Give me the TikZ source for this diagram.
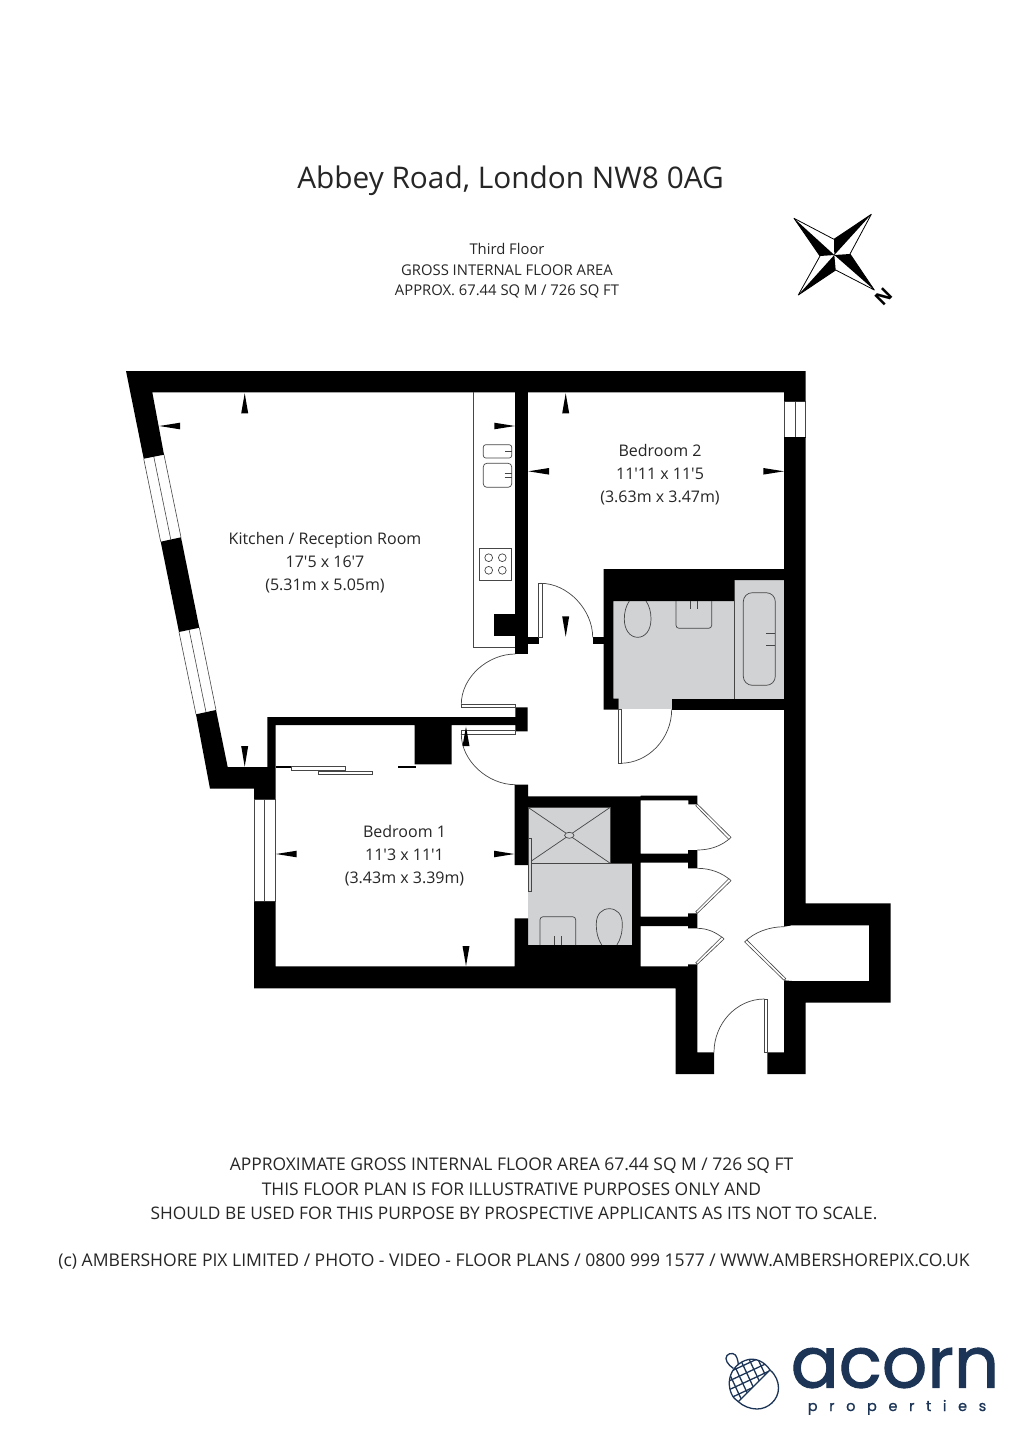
\documentclass[tikz,border=0pt]{standalone}
\usepackage{fontspec}
\usetikzlibrary{calc}
\newfontfamily\labelfont{Open Sans}
\newfontfamily\logofont{Poppins}
\setmainfont{Open Sans}
\definecolor{wetgray}{RGB}{208,210,211}
\definecolor{navy}{RGB}{28,53,87}
\definecolor{fixline}{RGB}{70,70,70}
\tikzset{
  wall/.style={fill=black,draw=none},
  fix/.style={draw=fixline,line width=0.7pt},
  leaf/.style={draw=fixline,line width=0.6pt,fill=white},
  swing/.style={draw=fixline,line width=0.7pt},
  winline/.style={draw=fixline,line width=0.6pt},
  dimmark/.style={fill=black,draw=none},
  txt/.style={inner sep=0pt,align=center,font=\labelfont\fontsize{16}{23}\selectfont,text=black!85},
  foot/.style={inner sep=0pt,font=\labelfont\fontsize{17.45}{20}\selectfont,text=black!85},
  head/.style={inner sep=0pt,font=\labelfont\fontsize{14.8}{20.5}\selectfont,align=center,text=black!85},
}
\begin{document}
\begin{tikzpicture}[x=1pt,y=-1pt]
\useasboundingbox (0,0) rectangle (1020,1441);
\fill[white] (0,0) rectangle (1020,1441);
% wet rooms
\fill[wetgray] (613.3,601) rectangle (734.7,698.7);
\fill[wetgray] (618.7,698) rectangle (671.7,709.3);
\fill[wetgray] (734.7,580) rectangle (784,698.7);
\fill[wetgray] (528,807.3) rectangle (610.3,863.3);
\fill[wetgray] (528,863.3) rectangle (632,945);
% windows
\draw[winline] (143.7,458.7) -- (160.7,541.7) (164,454.7) -- (181,537.3) (153.8,456.7) -- (170.8,539.5);
\draw[winline] (179,632) -- (196,714.3) (199.3,627.7) -- (216,710) (189.1,629.8) -- (206,712.1);
\draw[winline] (784.3,401.3) rectangle (805.5,437) (795,401.3) -- (795,437);
\draw[winline] (254,799) rectangle (275.7,901.7) (264.7,799) -- (264.7,901.7);
% walls
\fill[wall] (126,371) -- (805.7,371) -- (805.7,401.3) -- (784,401.3) -- (784,392.3) -- (152.3,392.3) -- (164,454.7) -- (143.7,458.7) -- cycle;
\fill[wall] (160.7,541.7) -- (181,537.3) -- (199.3,627.7) -- (179,632) -- cycle;
\fill[wall] (196,714.3) -- (216,710) -- (227.7,767) -- (267.3,767) -- (267.3,717) -- (515.3,717) -- (515.3,707.3) -- (527.7,707.3) -- (527.7,731.3) -- (515.3,731.3) -- (515.3,725) -- (451.7,725) -- (451.7,764.3) -- (414.7,764.3) -- (414.7,725) -- (275.7,725) -- (275.7,799) -- (254,799) -- (254,788.7) -- (210,788.7) -- cycle;
\fill[wall] (515.3,392) rectangle (527.7,654);
\fill[wall] (494,614.3) rectangle (515.3,635.7);
\fill[wall] (527.7,637.3) rectangle (539.3,644.3);
\fill[wall] (592.7,637.3) rectangle (603.7,644.3);
\fill[wall] (603.7,569) -- (784,569) -- (784,580) -- (734.7,580) -- (734.7,601) -- (613.3,601) -- (613.3,698.7) -- (618.7,698.7) -- (618.7,709.7) -- (603.7,709.7) -- cycle;
\fill[wall] (671.7,698.7) rectangle (784,709.5);
\fill[wall] (784,437) -- (805.5,437) -- (805.5,903.3) -- (890.7,903.3) -- (890.7,1002.7) -- (805.5,1002.7) -- (805.5,1074) -- (767.3,1074) -- (767.3,1052.3) -- (784,1052.3) -- (784,980.3) -- (792,981) -- (869,981) -- (869,925.3) -- (792,925.3) -- (784,926.7) -- cycle;
\fill[wall] (254,901.7) -- (275.7,901.7) -- (275.7,966.3) -- (514.7,966.3) -- (514.7,918.3) -- (528,918.3) -- (528,945) -- (632,945) -- (632,863.3) -- (610.3,863.3) -- (610.3,807.3) -- (528,807.3) -- (528,865) -- (514.7,865) -- (514.7,784.7) -- (528,784.7) -- (528,796.3) -- (640.5,796.3) -- (640.5,795.7) -- (697.3,795.7) -- (697.3,804.3) -- (688.3,804.3) -- (688.3,800.3) -- (640.5,800.3) -- (640.5,853.7) -- (688,853.7) -- (688,850) -- (697.3,850) -- (697.3,868.3) -- (688,868.3) -- (688,862.7) -- (640.5,862.7) -- (640.5,916.7) -- (688,916.7) -- (688,913.3) -- (697.3,913.3) -- (697.3,928.3) -- (688,928.3) -- (688,926) -- (640.5,926) -- (640.5,966.3) -- (688,966.3) -- (688,964.3) -- (697.3,964.3) -- (697.3,1052.3) -- (714,1052.3) -- (714,1074) -- (675.7,1074) -- (675.7,988.3) -- (254,988.3) -- cycle;
\fill[wall] (275.7,766) rectangle (291.7,767.5);
\fill[wall] (398.3,766) rectangle (415.7,767.5);
% doors
\draw[swing] (540.7,583.3) .. controls (568,583.3) and (592.7,610) .. (592.7,637.3);
\draw[leaf] (538.3,583.3) rectangle (542,637.3);
\draw[swing] (461.3,704.3) .. controls (461.3,677) and (488,654) .. (515.3,654);
\draw[leaf] (461.3,704.3) rectangle (515.5,707.7);
\draw[swing] (461.3,734) .. controls (461.3,761) and (488,784.7) .. (515.3,784.7);
\draw[leaf] (461.3,730.7) rectangle (515.5,734.3);
\draw[swing] (620,763.3) .. controls (649,763.3) and (671.7,738) .. (671.7,709.3);
\draw[leaf] (618.3,709.3) rectangle (621.3,763.3);
\draw[swing] (764.5,999) .. controls (736,999) and (714,1024) .. (714,1052.3);
\draw[leaf] (764.3,999) rectangle (767.3,1052.3);
\draw[swing] (731,837.3) .. controls (722,846) and (710,850) .. (697.3,850);
\draw[leaf] (697.3,804) -- (731,837.3) -- (728.9,839.4) -- (695.8,805.8) -- cycle;
\draw[swing] (731,880.7) .. controls (722,872.5) and (710,868.3) .. (697.3,868.3);
\draw[leaf] (697.3,913.3) -- (731,880.7) -- (728.9,878.6) -- (695.8,911.6) -- cycle;
\draw[swing] (724,939) .. controls (716,932) and (707,928.3) .. (697.3,928.3);
\draw[leaf] (697.3,964.3) -- (724,939) -- (721.9,936.9) -- (695.8,962.6) -- cycle;
\draw[swing] (744.7,942) .. controls (754,932) and (770,926.7) .. (784,926.7);
\draw[leaf] (784,980.3) -- (744.7,942) -- (746.8,939.9) -- (785.8,978.6) -- cycle;
% sliding doors
\draw[leaf] (291.7,766.7) rectangle (345.7,770);
\draw[leaf] (318.3,771.3) rectangle (372.3,774.3);
% kitchen
\draw[fix] (473.3,392.3) -- (473.3,647.3) -- (515.3,647.3);
\draw[fix,rounded corners=2.5pt] (483.3,444.7) rectangle (511.7,458);
\draw[fix] (505,451) -- (511.7,451);
\draw[fix,rounded corners=3.5pt] (483.3,463.3) rectangle (511.7,487.3);
\draw[fix] (504.7,473.3) -- (511.7,473.3) (504.7,477.3) -- (511.7,477.3);
\draw[fix] (479.3,548) rectangle (511.7,580.3);
\foreach \cx in {488.7,502.3} \foreach \cy in {557.7,570.3} \draw[fix] (\cx,\cy) circle[radius=3.9];
% bathroom
\draw[fix] (734.7,580) -- (734.7,698.7);
\draw[fix,rounded corners=9pt] (743.3,592.7) rectangle (775.3,685.3);
\draw[fix] (766,633) -- (775.3,633) (766,645) -- (775.3,645);
\draw[fix] (629.3,601) .. controls (626,606) and (624.3,612) .. (624.3,619) .. controls (624.3,630) and (630,637.3) .. (637.7,637.3) .. controls (645.4,637.3) and (651,630) .. (651,619) .. controls (651,612) and (649.4,606) .. (646,601);
\draw[fix,rounded corners=3pt] (676,601) -- (676,628.3) -- (711.7,628.3) -- (711.7,601);
\draw[fix] (690.3,601) -- (690.3,609) (697,601) -- (697,609);
% ensuite
\draw[fix] (528,807.3) rectangle (610.3,863.3);
\draw[fix] (528,807.3) -- (610.3,863.3) (610.3,807.3) -- (528,863.3);
\draw[fix,fill=wetgray] (569.3,835.3) ellipse[x radius=4.7,y radius=3];
\draw[leaf,fill=wetgray] (528,838) rectangle (531,891.7);
\draw[fix] (610,863.3) -- (632,863.3);
\draw[fix,rounded corners=3pt] (540,945) -- (540,916.7) -- (575.7,916.7) -- (575.7,945);
\draw[fix] (554.3,936) -- (554.3,945) (561,936) -- (561,945);
\draw[fix] (601.7,945) .. controls (598,939) and (596.3,933) .. (596.3,924) .. controls (596.3,914) and (602,908.7) .. (609.3,908.7) .. controls (616.6,908.7) and (622.3,914) .. (622.3,924) .. controls (622.3,933) and (620.6,939) .. (616.9,945);
% measure marks
\fill[dimmark] (244.7,393.3) -- (241.2,413.3) -- (248.2,413.3) -- cycle;
\fill[dimmark] (159.3,426) -- (180,422.7) -- (180,429.3) -- cycle;
\fill[dimmark] (515,426) -- (494.3,422.7) -- (494.3,429.3) -- cycle;
\fill[dimmark] (244.7,766.7) -- (241.2,746) -- (248.2,746) -- cycle;
\fill[dimmark] (565.7,393.3) -- (562.2,413.3) -- (569.2,413.3) -- cycle;
\fill[dimmark] (528.3,471.3) -- (549,468) -- (549,474.6) -- cycle;
\fill[dimmark] (784,471.3) -- (763.3,468) -- (763.3,474.6) -- cycle;
\fill[dimmark] (565.7,636.7) -- (562.2,616.3) -- (569.2,616.3) -- cycle;
\fill[dimmark] (276,854) -- (296.7,850.7) -- (296.7,857.3) -- cycle;
\fill[dimmark] (514.3,854) -- (494,850.7) -- (494,857.3) -- cycle;
\fill[dimmark] (466,966) -- (462.5,946) -- (469.5,946) -- cycle;
\fill[dimmark] (466,726.7) -- (462.5,746) -- (469.5,746) -- cycle;
% compass
\coordinate (cc) at (834.3,255);
\coordinate (tnw) at (794,218.3);
\coordinate (tne) at (871.3,214.3);
\coordinate (tse) at (874.3,290);
\coordinate (tsw) at (798.3,295);
\coordinate (it) at (834,239.3);
\coordinate (ir) at (850,254);
\coordinate (ib) at (835.7,270);
\coordinate (il) at (820,256);
\draw[black,line width=0.8pt,line join=round] (tnw) -- (it) -- (tne) -- (ir) -- (tse) -- (ib) -- (tsw) -- (il) -- cycle;
\fill[black] (tnw) -- (il) -- (cc) -- cycle (tne) -- (it) -- (cc) -- cycle (tse) -- (ir) -- (cc) -- cycle (tsw) -- (ib) -- (cc) -- cycle;
\node[inner sep=0pt,rotate=-135,font=\labelfont\fontsize{19}{19}\selectfont\bfseries] (north) at (883.5,297) {N};
% texts
\node[inner sep=0pt,font=\labelfont\fontsize{29.8}{30}\selectfont,text=black!85] (title) at (510.5,180.5) {Abbey Road, London NW8 0AG};
\node[head] (floorinfo) at (507,271) {Third Floor\\GROSS INTERNAL FLOOR AREA\\APPROX. 67.44 SQ M / 726 SQ FT};
\node[txt] (kitchenlabel) at (325,563) {Kitchen / Reception Room\\17'5 x 16'7\\(5.31m x 5.05m)};
\node[txt] (bed2label) at (660,475) {Bedroom 2\\11'11 x 11'5\\(3.63m x 3.47m)};
\node[txt] (bed1label) at (404.5,856) {Bedroom 1\\11'3 x 11'1\\(3.43m x 3.39m)};
\node[foot] (f1) at (511.5,1165.5) {APPROXIMATE GROSS INTERNAL FLOOR AREA 67.44 SQ M / 726 SQ FT};
\node[foot] (f2) at (511.5,1189.5) {THIS FLOOR PLAN IS FOR ILLUSTRATIVE PURPOSES ONLY AND};
\node[foot,font=\labelfont\fontsize{17.3}{20}\selectfont] (f3) at (514,1213.5) {SHOULD BE USED FOR THIS PURPOSE BY PROSPECTIVE APPLICANTS AS ITS NOT TO SCALE.};
\node[foot,font=\labelfont\fontsize{17.55}{20}\selectfont] (f4) at (514,1261.5) {(c) AMBERSHORE PIX LIMITED / PHOTO - VIDEO - FLOOR PLANS / 0800 999 1577 / WWW.AMBERSHOREPIX.CO.UK};
% logo
\node[inner sep=0pt,anchor=base,text=navy,font=\logofont\fontsize{71}{71}\selectfont\addfontfeature{FakeBold=1.4}] (acorn) at (895,1387.5) {acorn};
\node[inner sep=0pt,anchor=base,text=navy,font=\logofont\fontsize{14.5}{15}\selectfont\addfontfeature{LetterSpace=80,FakeBold=1}] (props) at (897,1411) {properties};
% acorn icon
\begin{scope}[navy,line width=1.3pt,line join=round]
\draw (733.3,1368.3) .. controls (728,1365) and (724,1359) .. (727,1355.5) .. controls (730,1352) and (736,1353) .. (737,1358) .. controls (738,1361) and (738.3,1363) .. (738.3,1365);
\begin{scope}
\clip (738.3,1401.7) .. controls (732,1398) and (729,1390) .. (729.3,1381.7) .. controls (730,1372) and (736,1364) .. (745,1360.5) .. controls (755,1356.5) and (765,1362) .. (770,1370) -- cycle;
\foreach \k in {-5,...,5} {
  \draw[rotate around={25:(750,1380)}] ($(750,1380)+(\k*8,-40)$) -- ++(0,80);
  \draw[rotate around={25:(750,1380)}] ($(750,1380)+(-40,\k*8)$) -- ++(80,0);
}
\end{scope}
\draw (738.3,1401.7) .. controls (732,1398) and (729,1390) .. (729.3,1381.7) .. controls (730,1372) and (736,1364) .. (745,1360.5) .. controls (755,1356.5) and (765,1362) .. (770,1370) -- cycle;
\draw (770,1370) .. controls (776,1375) and (778.5,1382) .. (778.5,1388) .. controls (778.5,1400) and (768,1409) .. (757,1409) .. controls (750,1409) and (743,1406) .. (738.3,1401.7);
\end{scope}
\end{tikzpicture}
\end{document}
